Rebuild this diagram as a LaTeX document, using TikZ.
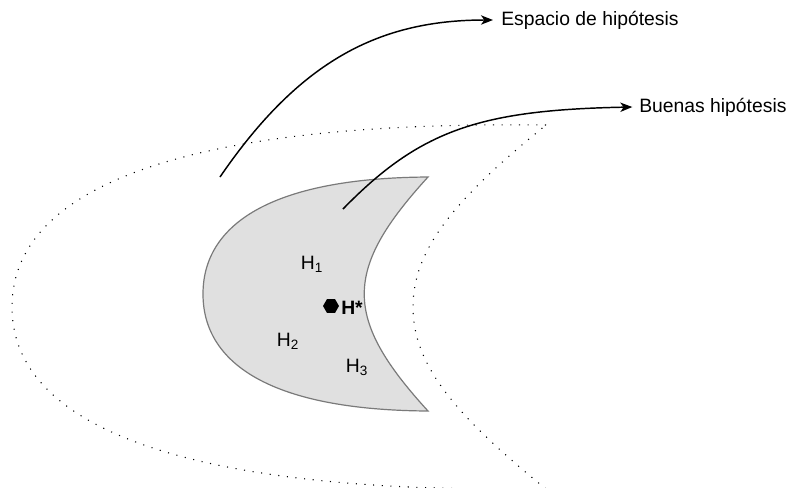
\documentclass[tikz,border=0pt]{standalone}
\usepackage{fontspec}
\setmainfont{Liberation Sans}
\usetikzlibrary{arrows.meta,shapes.geometric}
\begin{document}
\begin{tikzpicture}[x=0.75pt,y=-0.75pt,
  lbl/.style={inner sep=0pt,font=\fontsize{14.5}{17}\selectfont},
  dotline/.style={line width=0.8pt,dash pattern=on 0.8pt off 5.7pt},
  conn/.style={line width=1.1pt,-{Stealth[length=9pt,width=7pt,inset=2.5pt]}},
  goodset/.style={draw=black!52,fill=black!12,line width=0.9pt}]
\useasboundingbox (0,0) rectangle (804,487);
% outer dotted crescent (hypothesis space)
\draw[dotline] (546,125) .. controls (150,120) and (12,200) .. (12,307)
  .. controls (12,414) and (150,494) .. (546,489)
  .. controls (455,415) and (413,365) .. (413,307)
  .. controls (413,249) and (455,199) .. (546,125);
% inner filled crescent (good hypotheses)
\draw[goodset] (428,177) .. controls (270,178) and (203,225) .. (203,294)
  .. controls (203,363) and (270,410) .. (428,411)
  .. controls (343,318) and (343,270) .. (428,177) -- cycle;
% labels inside
\node[lbl] (h1) at (312,264) {H\textsubscript{1}};
\node[lbl] (h2) at (288,341) {H\textsubscript{2}};
\node[lbl] (h3) at (357,367) {H\textsubscript{3}};
\node[regular polygon,regular polygon sides=6,fill=black,inner sep=0pt,minimum size=12pt] (hs) at (331,306) {};
\node[lbl,anchor=west,font=\fontsize{14.5}{17}\selectfont\bfseries] (hstar) at (341,308) {H*};
% outside labels
\node[lbl,anchor=west] (esp) at (501,20) {Espacio de hipótesis};
\node[lbl,anchor=west] (bue) at (639,107) {Buenas hipótesis};
\coordinate (s1) at (220,177);
\coordinate (s2) at (343,209);
\draw[conn] (s1) .. controls (300,60) and (380,20) .. ([xshift=-6]esp.west);
\draw[conn] (s2) .. controls (420,130) and (480,110) .. ([xshift=-5]bue.west);
\end{tikzpicture}
\end{document}
